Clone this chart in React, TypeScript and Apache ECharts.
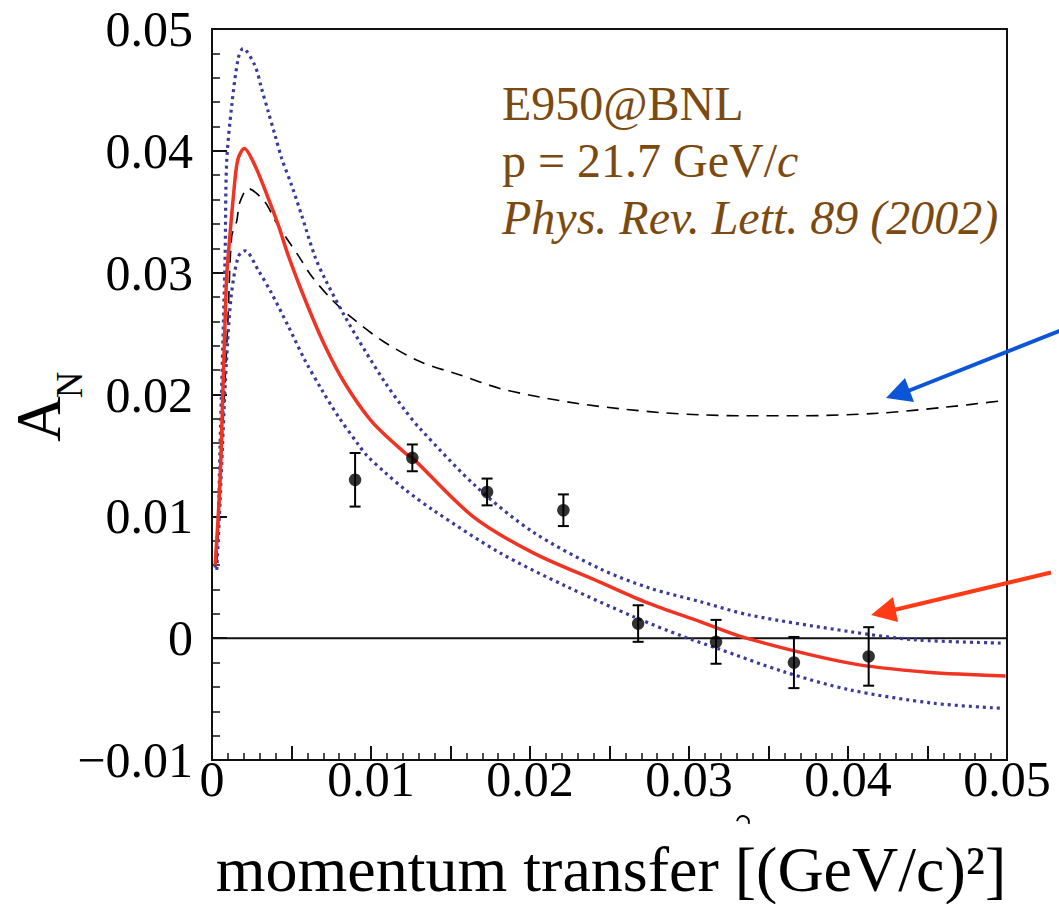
import React, { useEffect, useRef } from "react";
import * as echarts from "echarts";

// ---- data ----
const xTickLabels = ["0", "0.01", "0.02", "0.03", "0.04", "0.05"];
const yTickLabels = ["\u22120.01", "0", "0.01", "0.02", "0.03", "0.04", "0.05"];

// measured points: [t, A_N, error]
const dataPoints = [
  [0.009, 0.013, 0.0022],
  [0.0126, 0.0148, 0.0011],
  [0.0173, 0.012, 0.0011],
  [0.0221, 0.0105, 0.0013],
  [0.0268, 0.0012, 0.0015],
  [0.0317, -0.0003, 0.0018],
  [0.0366, -0.002, 0.0021],
  [0.0413, -0.0015, 0.0024],
];

// red solid fit
const redCurve = [
  [0.0002, 0.006], [0.0005, 0.0127], [0.0007, 0.0209], [0.0009, 0.0291],
  [0.001, 0.0311], [0.00145, 0.0377], [0.00165, 0.0394], [0.00203, 0.0402],
  [0.0027, 0.0388], [0.00354, 0.0361], [0.00417, 0.0339], [0.0048, 0.0314],
  [0.00585, 0.0278], [0.0071, 0.024], [0.00836, 0.0209], [0.01004, 0.0178],
  [0.01214, 0.0152], [0.0126, 0.0148], [0.0164, 0.01], [0.0202, 0.007], [0.0244, 0.0046],
  [0.0274, 0.0029], [0.0307, 0.00136], [0.0336, 0.0], [0.0401, -0.00205],
  [0.045, -0.0028], [0.0499, -0.0031],
];

// upper dotted band
const upperCurve = [
  [0.0002, 0.0058], [0.0004, 0.01], [0.0005, 0.0155], [0.00082, 0.0311],
  [0.00092, 0.039], [0.00124, 0.0437], [0.00165, 0.0476], [0.00195, 0.0484],
  [0.0027, 0.047], [0.00312, 0.0451], [0.00354, 0.0432], [0.00396, 0.0413],
  [0.00438, 0.0394], [0.005, 0.0372], [0.00564, 0.0347], [0.00648, 0.0313],
  [0.0071, 0.0295], [0.00836, 0.0264], [0.00962, 0.0236], [0.01088, 0.021],
  [0.01214, 0.0187], [0.01308, 0.0172], [0.01665, 0.0124], [0.0202, 0.0087],
  [0.0244, 0.0057], [0.02755, 0.0041], [0.0307, 0.003], [0.0338, 0.0019],
  [0.0401, 0.00054], [0.0443, -0.00014], [0.0496, -0.0004],
];

// lower dotted band
const lowerCurve = [
  [0.0003, 0.0056], [0.0005, 0.011], [0.0007, 0.017], [0.0009, 0.0225],
  [0.0012, 0.028], [0.00165, 0.0313], [0.00208, 0.0318], [0.00291, 0.0302],
  [0.00375, 0.0283], [0.0048, 0.0256], [0.00585, 0.0228], [0.0069, 0.0204],
  [0.00794, 0.0182], [0.0092, 0.0159], [0.00973, 0.015], [0.01088, 0.0136],
  [0.01214, 0.0122], [0.01392, 0.0105], [0.01811, 0.007], [0.0223, 0.00424],
  [0.0265, 0.00177], [0.02965, 0.00013], [0.03174, -0.00082], [0.03593, -0.00274],
  [0.0401, -0.00424], [0.04537, -0.00534], [0.0496, -0.00575],
];

// black dashed curve
const dashedCurve = [
  [0.0003, 0.0062], [0.0006, 0.015], [0.001, 0.026], [0.00124, 0.033],
  [0.00155, 0.0342], [0.00176, 0.0358], [0.00228, 0.0369], [0.00333, 0.0358],
  [0.00396, 0.0343], [0.0047, 0.0328], [0.00543, 0.0314], [0.00627, 0.0297],
  [0.00753, 0.0278], [0.00879, 0.0263], [0.01078, 0.02435], [0.01308, 0.0227],
  [0.0156, 0.0216], [0.0181, 0.0205], [0.0206, 0.0198], [0.0231, 0.01924],
  [0.02566, 0.01883], [0.02818, 0.01852], [0.0307, 0.01833], [0.0336, 0.01825],
  [0.0368, 0.01825], [0.042, 0.01847], [0.0462, 0.01897], [0.0498, 0.0195],
];

const zeroLine = [[0, 0], [0.05, 0]];

const FONT = "Liberation Serif";
const BROWN = "#7b4a10";

function labelFor(v: number, step: number, base: number, list: string[]) {
  const k = (v - base) / step;
  const idx = Math.round(k);
  if (Math.abs(k - idx) < 1e-6 && idx >= 0 && idx < list.length) return list[idx];
  return "";
}

export default function App() {
  const ref = useRef<HTMLDivElement>(null);
  useEffect(() => {
    if (!ref.current) return;
    const chart = echarts.init(ref.current, undefined, { renderer: "svg" });
    const option: any = {
      animation: false,
      backgroundColor: "#ffffff",
      grid: {
        left: 212, top: 29, width: 795, height: 731,
        show: true, borderColor: "#111", borderWidth: 2, backgroundColor: "transparent",
      },
      xAxis: {
        type: "value", min: 0, max: 0.05, interval: 0.005,
        axisLine: { show: true, onZero: false, lineStyle: { color: "#111", width: 2 } },
        axisTick: { show: true, inside: true, length: 14, lineStyle: { color: "#111", width: 2 } },
        minorTick: { show: true, splitNumber: 5, length: 7, lineStyle: { color: "#111", width: 1.5 } },
        splitLine: { show: false },
        axisLabel: {
          show: true, margin: -6, color: "#000", fontFamily: FONT, fontSize: 50,
          showMinLabel: true, showMaxLabel: true,
          formatter: (v: number) => labelFor(v, 0.01, 0, xTickLabels),
        },
      },
      yAxis: {
        type: "value", min: -0.01, max: 0.05, interval: 0.01,
        axisLine: { show: true, onZero: false, lineStyle: { color: "#111", width: 2 } },
        axisTick: { show: true, inside: true, length: 15, lineStyle: { color: "#111", width: 2 } },
        minorTick: { show: true, splitNumber: 5, length: 8, lineStyle: { color: "#111", width: 1.5 } },
        splitLine: { show: false },
        axisLabel: {
          show: true, margin: 19, color: "#000", fontFamily: FONT, fontSize: 50,
          showMinLabel: true, showMaxLabel: true,
          formatter: (v: number) => labelFor(v, 0.01, -0.01, yTickLabels),
        },
      },
      series: [
        {
          type: "line", data: zeroLine, symbol: "none", silent: true,
          lineStyle: { color: "#111", width: 2 }, z: 1,
        },
        {
          type: "line", data: dashedCurve, symbol: "none", smooth: 0.3,
          lineStyle: { color: "#000", width: 1.6, type: [12, 8] }, z: 2,
        },
        {
          type: "line", data: upperCurve, symbol: "none", smooth: 0.3,
          lineStyle: { color: "#3a3a9a", width: 3.2, type: [3, 4] }, z: 3,
        },
        {
          type: "line", data: lowerCurve, symbol: "none", smooth: 0.3,
          lineStyle: { color: "#3a3a9a", width: 3.2, type: [3, 4] }, z: 3,
        },
        {
          type: "line", data: redCurve, symbol: "none", smooth: 0.3,
          lineStyle: { color: "#f03424", width: 3.5 }, z: 4,
        },
        {
          type: "custom",
          data: dataPoints,
          encode: { x: 0, y: 1 },
          z: 5,
          renderItem: (params: any, api: any) => {
            const x = api.value(0), y = api.value(1), e = api.value(2);
            const t = api.coord([x, y + e]);
            const b = api.coord([x, y - e]);
            const st = { stroke: "#000", lineWidth: 2 };
            return {
              type: "group",
              children: [
                { type: "line", shape: { x1: t[0], y1: t[1], x2: b[0], y2: b[1] }, style: st },
                { type: "line", shape: { x1: t[0] - 5.5, y1: t[1], x2: t[0] + 5.5, y2: t[1] }, style: st },
                { type: "line", shape: { x1: b[0] - 5.5, y1: b[1], x2: b[0] + 5.5, y2: b[1] }, style: st },
              ],
            };
          },
        },
        {
          type: "scatter", data: dataPoints.map((p) => [p[0], p[1]]),
          symbol: "circle", symbolSize: 12.5, itemStyle: { color: "#000" }, z: 6,
        },
      ],
      graphic: [
        {
          type: "text", x: 39, y: 419, rotation: Math.PI / 2,
          style: { text: "A", fontFamily: FONT, fontSize: 63, fill: "#000", align: "center", verticalAlign: "middle" },
        },
        {
          type: "text", x: 69, y: 385, rotation: Math.PI / 2,
          style: { text: "N", fontFamily: FONT, fontSize: 37, fill: "#000", align: "center", verticalAlign: "middle" },
        },
        {
          type: "text", x: 611, y: 869,
          style: { text: "momentum transfer [(GeV/c)\u00b2]", fontFamily: FONT, fontSize: 64, fill: "#000", align: "center", verticalAlign: "middle" },
        },
        {
          type: "text", x: 502, y: 103,
          style: { text: "E950@BNL", fontFamily: FONT, fontSize: 48, fill: BROWN, align: "left", verticalAlign: "middle" },
        },
        {
          type: "text", x: 502, y: 160,
          style: {
            text: "{n|p = 21.7 GeV/}{i|c}", fontFamily: FONT, fontSize: 48, fill: BROWN, align: "left", verticalAlign: "middle",
            rich: {
              n: { fontFamily: FONT, fontSize: 48, fill: BROWN },
              i: { fontFamily: FONT, fontSize: 48, fill: BROWN, fontStyle: "italic" },
            },
          },
        },
        {
          type: "text", x: 502, y: 217,
          style: { text: "Phys. Rev. Lett. 89 (2002)", fontFamily: FONT, fontSize: 48, fontStyle: "italic", fill: BROWN, align: "left", verticalAlign: "middle" },
        },
        // blue arrow
        {
          type: "line", shape: { x1: 1062, y1: 330, x2: 908, y2: 391 },
          style: { stroke: "#0b55d6", lineWidth: 4 }, z: 100,
        },
        {
          type: "polygon", shape: { points: [[886, 398], [905, 378], [914, 402]] },
          style: { fill: "#0b55d6" }, z: 100,
        },
        // red arrow
        {
          type: "line", shape: { x1: 1051, y1: 572.5, x2: 894, y2: 610 },
          style: { stroke: "#ff3a14", lineWidth: 4 }, z: 100,
        },
        {
          type: "polygon", shape: { points: [[871, 615], [893, 597], [898, 622]] },
          style: { fill: "#ff3a14" }, z: 100,
        },
        // clipped glyph fragment below the axis
        {
          type: "arc", shape: { cx: 743, cy: 822, r: 6, startAngle: Math.PI * 1.05, endAngle: Math.PI * 2.1 },
          style: { stroke: "#000", lineWidth: 2, fill: "none" },
        },
      ],
    };
    chart.setOption(option);
    return () => chart.dispose();
  }, []);
  return (
    <div
      ref={ref}
      style={{ position: "fixed", left: 0, top: 0, width: 1059, height: 904, background: "#fff" }}
    />
  );
}
